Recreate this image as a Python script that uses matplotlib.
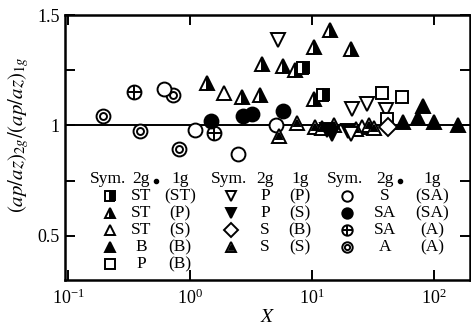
import numpy as np
import matplotlib
matplotlib.use('Agg')
import matplotlib.pyplot as plt
from matplotlib.ticker import FixedLocator, NullLocator

plt.rcParams['font.family'] = ['Liberation Serif', 'DejaVu Serif']
plt.rcParams['mathtext.fontset'] = 'stix'

# data: (X, ratio) per symbol group
st_st_x = [8.48, 12.4]
st_st_y = [1.261, 1.136]
st_p_x = [14.0, 10.4, 20.8, 3.87, 5.82, 7.24, 1.37, 2.65, 3.75, 10.4]
st_p_y = [1.431, 1.356, 1.347, 1.28, 1.268, 1.25, 1.19, 1.13, 1.136, 1.121]
st_s_x = [1.91, 25.5]
st_s_y = [1.148, 0.994]
b_b_x = [55.4, 74.3, 81.8, 100, 156]
b_b_y = [1.015, 1.035, 1.087, 1.017, 1.001]
p_b_x = [37.3, 54.4, 40.9]
p_b_y = [1.148, 1.13, 1.03]
p_p_x = [5.3, 21.1, 28.4, 40.4, 20.8]
p_p_y = [1.389, 1.075, 1.095, 1.072, 0.96]
p_s_x = [13.2, 14.5, 19.8]
p_s_y = [0.98, 0.962, 0.974]
s_b_x = [42.2]
s_b_y = [0.994]
s_s_x = [5.4, 7.6, 10.6, 12.0, 15.0, 22.9, 29.5, 32.2]
s_s_y = [0.952, 1.012, 0.994, 0.99, 1.0, 0.985, 1.0, 0.99]
s_sa_x = [0.612, 1.1, 5.07, 2.49]
s_sa_y = [1.167, 0.979, 1.0, 0.869]
sa_sa_x = [1.48, 2.73, 3.2, 5.75]
sa_sa_y = [1.019, 1.042, 1.05, 1.065]
sa_a_x = [0.348, 1.57]
sa_a_y = [1.152, 0.967]
a_a_x = [0.192, 0.389, 0.73, 0.81]
a_a_y = [1.042, 0.974, 1.136, 0.894]

# legend table: (2g, 1g) labels per column
col1_labels = [('ST', '(ST)'), ('ST', '(P)'), ('ST', '(S)'), ('B', '(B)'), ('P', '(B)')]
col2_labels = [('P', '(P)'), ('P', '(S)'), ('S', '(B)'), ('S', '(S)')]
col3_labels = [('S', '(SA)'), ('SA', '(SA)'), ('SA', '(A)'), ('A', '(A)')]

K = 'black'
W = 'white'


def draw(ax, key, x, y, ms=10, **kw):
    # each symbol built from one or two matplotlib markers
    base = dict(linestyle='none', markeredgecolor=K, markeredgewidth=1.4, clip_on=False)
    base.update(kw)
    if key == 'st_st':
        ax.plot(x, y, 's', ms=ms * 0.9, mfc=K, markerfacecoloralt=W, fillstyle='right', **base)
    elif key == 'st_p':
        ax.plot(x, y, '^', ms=ms, mfc=K, markerfacecoloralt=W, fillstyle='right', **base)
    elif key == 'st_s':
        ax.plot(x, y, '^', ms=ms, mfc=W, **base)
    elif key == 'b_b':
        ax.plot(x, y, '^', ms=ms, mfc=K, **base)
    elif key == 'p_b':
        ax.plot(x, y, 's', ms=ms * 0.9, mfc=W, **base)
    elif key == 'p_p':
        ax.plot(x, y, 'v', ms=ms, mfc=W, **base)
    elif key == 'p_s':
        ax.plot(x, y, 'v', ms=ms, mfc=K, **base)
    elif key == 's_b':
        ax.plot(x, y, 'D', ms=ms * 0.95, mfc=W, **base)
    elif key == 's_s':
        ax.plot(x, y, '^', ms=ms, mfc=W, **base)
        ax.plot(x, y, '^', ms=ms * 0.45, mfc=K, **base)
    elif key == 's_sa':
        ax.plot(x, y, 'o', ms=ms, mfc=W, **base)
    elif key == 'sa_sa':
        ax.plot(x, y, 'o', ms=ms, mfc=K, **base)
    elif key == 'sa_a':
        ax.plot(x, y, 'o', ms=ms, mfc=W, **base)
        ax.plot(x, y, '+', ms=ms, **base)
    elif key == 'a_a':
        ax.plot(x, y, 'o', ms=ms, mfc=W, **base)
        ax.plot(x, y, 'o', ms=ms * 0.5, mfc=W, **base)


fig = plt.figure(figsize=(4.71, 3.29), dpi=100)
ax = fig.add_axes([65 / 471, 49 / 329, 405 / 471, 265 / 329])
ax.set_xscale('log')
ax.set_xlim(10 ** -1.025, 10 ** 2.295)
ax.set_ylim(0.3, 1.5)

ax.axhline(1.0, color=K, lw=1.4, zorder=1)

series = [
    ('a_a', a_a_x, a_a_y), ('sa_a', sa_a_x, sa_a_y), ('s_sa', s_sa_x, s_sa_y),
    ('sa_sa', sa_sa_x, sa_sa_y), ('st_p', st_p_x, st_p_y), ('st_st', st_st_x, st_st_y),
    ('st_s', st_s_x, st_s_y), ('s_s', s_s_x, s_s_y), ('p_s', p_s_x, p_s_y),
    ('p_p', p_p_x, p_p_y), ('p_b', p_b_x, p_b_y), ('s_b', s_b_x, s_b_y), ('b_b', b_b_x, b_b_y),
]
for key, xs, ys in series:
    draw(ax, key, xs, ys, zorder=3)

# axes styling
for sp in ax.spines.values():
    sp.set_linewidth(1.8)
ax.xaxis.set_major_locator(FixedLocator([0.1, 1, 10, 100]))
ax.xaxis.set_minor_locator(NullLocator())
ax.yaxis.set_major_locator(FixedLocator([0.5, 1.0, 1.5]))
ax.yaxis.set_minor_locator(FixedLocator([0.75, 1.25]))
ax.set_yticklabels(['0.5', '1', '1.5'])
ax.tick_params(which='both', direction='in', top=True, right=True, width=1.4)
ax.tick_params(which='major', length=7, labelsize=13)
ax.tick_params(which='minor', length=7)
ax.tick_params(axis='x', pad=6)
ax.tick_params(axis='y', pad=4)

ax.set_xlabel(r'$X$', fontsize=14, labelpad=1)
ax.set_ylabel(r'$(ap/az)_{2g}/(ap/az)_{1g}$', fontsize=15)
ax.yaxis.set_label_coords(-0.085, 0.55)

# legend drawn as a little table inside the axes
def px2ax(px, py):
    return (px - 65) / 405, (280 - py) / 265

rows_py = [179, 196, 213, 230, 247, 264]
cols = [
    (110, 141, 180, col1_labels, ['st_st', 'st_p', 'st_s', 'b_b', 'p_b'], True),
    (231, 265, 300, col2_labels, ['p_p', 'p_s', 's_b', 's_s'], False),
    (347, 385, 432, col3_labels, ['s_sa', 'sa_sa', 'sa_a', 'a_a'], True),
]
tk = dict(fontsize=12.5, ha='center', va='center', transform=ax.transAxes)
for sx, gx, lx, labels, keys, dot in cols:
    hx, hy = px2ax(sx - 2, rows_py[0])
    ax.text(hx, hy, 'Sym.', **tk)
    ax.text(px2ax(gx, 0)[0], hy, '2g', **tk)
    if dot:
        ax.plot(*px2ax(gx + 15, rows_py[0] + 2), 'o', ms=3, color=K, transform=ax.transAxes)
    ax.text(px2ax(lx, 0)[0], hy, '1g', **tk)
    for i, ((g2, g1), key) in enumerate(zip(labels, keys)):
        py = rows_py[i + 1]
        mx, my = px2ax(sx, py)
        draw(ax, key, [mx], [my], ms=7.5, transform=ax.transAxes, zorder=4)
        ax.text(px2ax(gx, 0)[0], my, g2, **tk)
        ax.text(px2ax(lx, 0)[0], my, g1, **tk)

fig.savefig('out.png', dpi=100)
